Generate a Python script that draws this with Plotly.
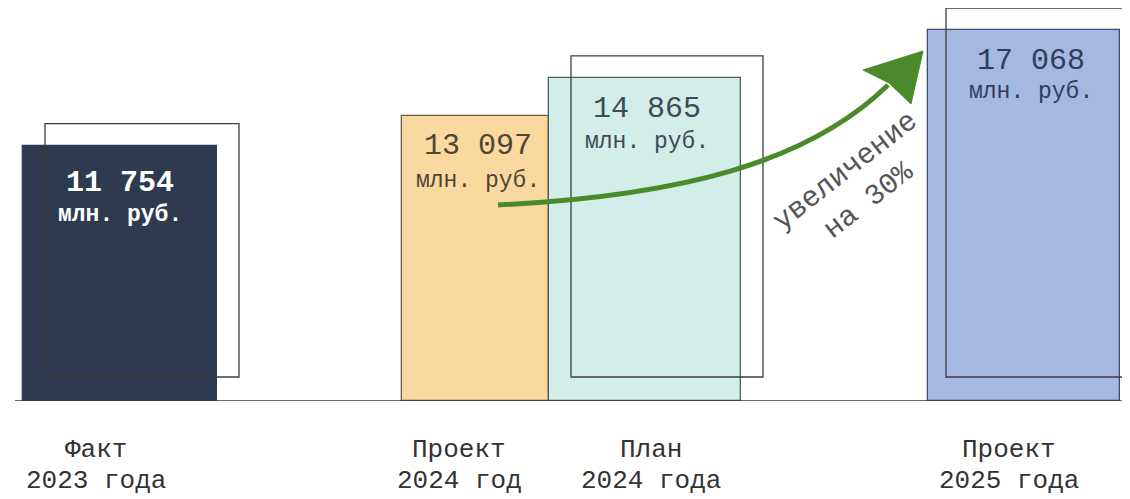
import plotly.graph_objects as go

# ---------------- data ----------------
label_line1 = ["Факт", "Проект", "План", "Проект"]
label_line2 = ["2023 года", "2024 год", "2024 года", "2025 года"]
values = [11754, 13097, 14865, 17068]
value_text = ["11 754", "13 097", "14 865", "17 068"]
unit_text = "млн. руб."
growth_text = "увеличение<br>на 30%"

# ---------------- layout / style ----------------
# the page body has an 8px margin, so the figure is placed at (8, 8)
OFF = 8
W, H = 1130 - OFF, 499 - OFF
BASE = 401                          # baseline pixel row in the page
PLOT_H = BASE - OFF                 # plot area height
U = 18450 / 401                     # value units per pixel
YMAX = PLOT_H * U

bar_x0 = [23, 402, 549, 928]
bar_x1 = [217, 549, 741, 1120]
bar_fill = ["#2d3a4f", "#fad9a1", "#d3ede8", "#a4b8e2"]
bar_line = ["#2d3a4f", "#6b5f4c", "#4d5d62", "#3f4c6b"]
txt_col = ["#ffffff", "#4f4535", "#3e4a55", "#2f3d5c"]
txt_bold = [True, False, False, False]
txt_dx = [0, 2, 2, 7]
num_off = [37, 30, 31, 31]         # px below bar top for number line
unit_off = [69, 65, 64, 62]        # px below bar top for unit line
shadow_dx = [22, None, 22, 18]     # None -> no shadow
lab_cx = [96, 459, 651, 1009]

FONT = "Liberation Mono, Courier New, monospace"


def py2y(py):
    return (BASE - py) * U


def py2paper(py):
    return (BASE - py) / PLOT_H


centers = [(a + b) / 2 for a, b in zip(bar_x0, bar_x1)]
widths = [b - a for a, b in zip(bar_x0, bar_x1)]

fig = go.Figure()
fig.add_trace(go.Bar(
    x=centers, y=values, width=widths,
    marker=dict(color=bar_fill, line=dict(color=bar_line, width=1.3)),
    hoverinfo="skip", showlegend=False,
))

shapes = []
# offset outline "shadow" frames
for i, v in enumerate(values):
    dx = shadow_dx[i]
    if dx is None:
        continue
    shapes.append(dict(
        type="rect", xref="x", yref="y",
        x0=bar_x0[i] + dx, x1=bar_x1[i] + dx,
        y0=24 * U, y1=v + 22 * U,
        line=dict(color="#3d3d3d", width=1.3), fillcolor="rgba(0,0,0,0)",
        layer="above",
    ))
# baseline
shapes.append(dict(type="line", xref="x", yref="y", x0=15, x1=1135, y0=0, y1=0,
                   line=dict(color="#3a3a3a", width=1.6), layer="above"))
# growth arrow (curve)
p0, p1, p2, p3 = (498, 205), (680, 196), (808, 163), (888, 85)
path = "M {},{} C {},{} {},{} {},{}".format(
    p0[0], py2y(p0[1]), p1[0], py2y(p1[1]), p2[0], py2y(p2[1]), p3[0], py2y(p3[1]))
shapes.append(dict(type="path", xref="x", yref="y", path=path,
                   line=dict(color="#4b8a2b", width=5), layer="above"))
# arrow head
tip, left, notch, right = (923, 51), (863, 70), (889, 83), (911, 104)
head = "M {},{} L {},{} L {},{} L {},{} Z".format(
    tip[0], py2y(tip[1]), left[0], py2y(left[1]),
    notch[0], py2y(notch[1]), right[0], py2y(right[1]))
shapes.append(dict(type="path", xref="x", yref="y", path=head,
                   line=dict(color="#4b8a2b", width=1), fillcolor="#4b8a2b",
                   layer="above"))

ann = []
for i, v in enumerate(values):
    cx = centers[i] + txt_dx[i]
    ntxt = "<b>%s</b>" % value_text[i] if txt_bold[i] else value_text[i]
    utxt = "<b>%s</b>" % unit_text if txt_bold[i] else unit_text
    ann.append(dict(x=cx, y=v - num_off[i] * U, xref="x", yref="y", text=ntxt,
                    showarrow=False, xanchor="center", yanchor="middle",
                    font=dict(family=FONT, size=30, color=txt_col[i])))
    ann.append(dict(x=cx, y=v - unit_off[i] * U, xref="x", yref="y", text=utxt,
                    showarrow=False, xanchor="center", yanchor="middle",
                    font=dict(family=FONT, size=23, color=txt_col[i])))
    # category labels under the axis
    ann.append(dict(x=lab_cx[i], y=py2paper(450), xref="x", yref="paper",
                    text=label_line1[i], showarrow=False,
                    xanchor="center", yanchor="middle",
                    font=dict(family=FONT, size=26, color="#333333")))
    ann.append(dict(x=lab_cx[i], y=py2paper(481), xref="x", yref="paper",
                    text=label_line2[i], showarrow=False,
                    xanchor="center", yanchor="middle",
                    font=dict(family=FONT, size=26, color="#333333")))

ann.append(dict(x=857, y=py2y(186), xref="x", yref="y", text=growth_text,
                showarrow=False, xanchor="center", yanchor="middle", align="center",
                textangle=-38,
                font=dict(family=FONT, size=29, color="#555555")))

fig.update_layout(
    width=W, height=H,
    margin=dict(l=0, r=0, t=0, b=H - PLOT_H, pad=0),
    paper_bgcolor="white", plot_bgcolor="white",
    xaxis=dict(range=[OFF, 1130], visible=False, fixedrange=True),
    yaxis=dict(range=[0, YMAX], visible=False, fixedrange=True),
    bargap=0, showlegend=False,
    shapes=shapes, annotations=ann,
)

fig.write_html("out.html")
